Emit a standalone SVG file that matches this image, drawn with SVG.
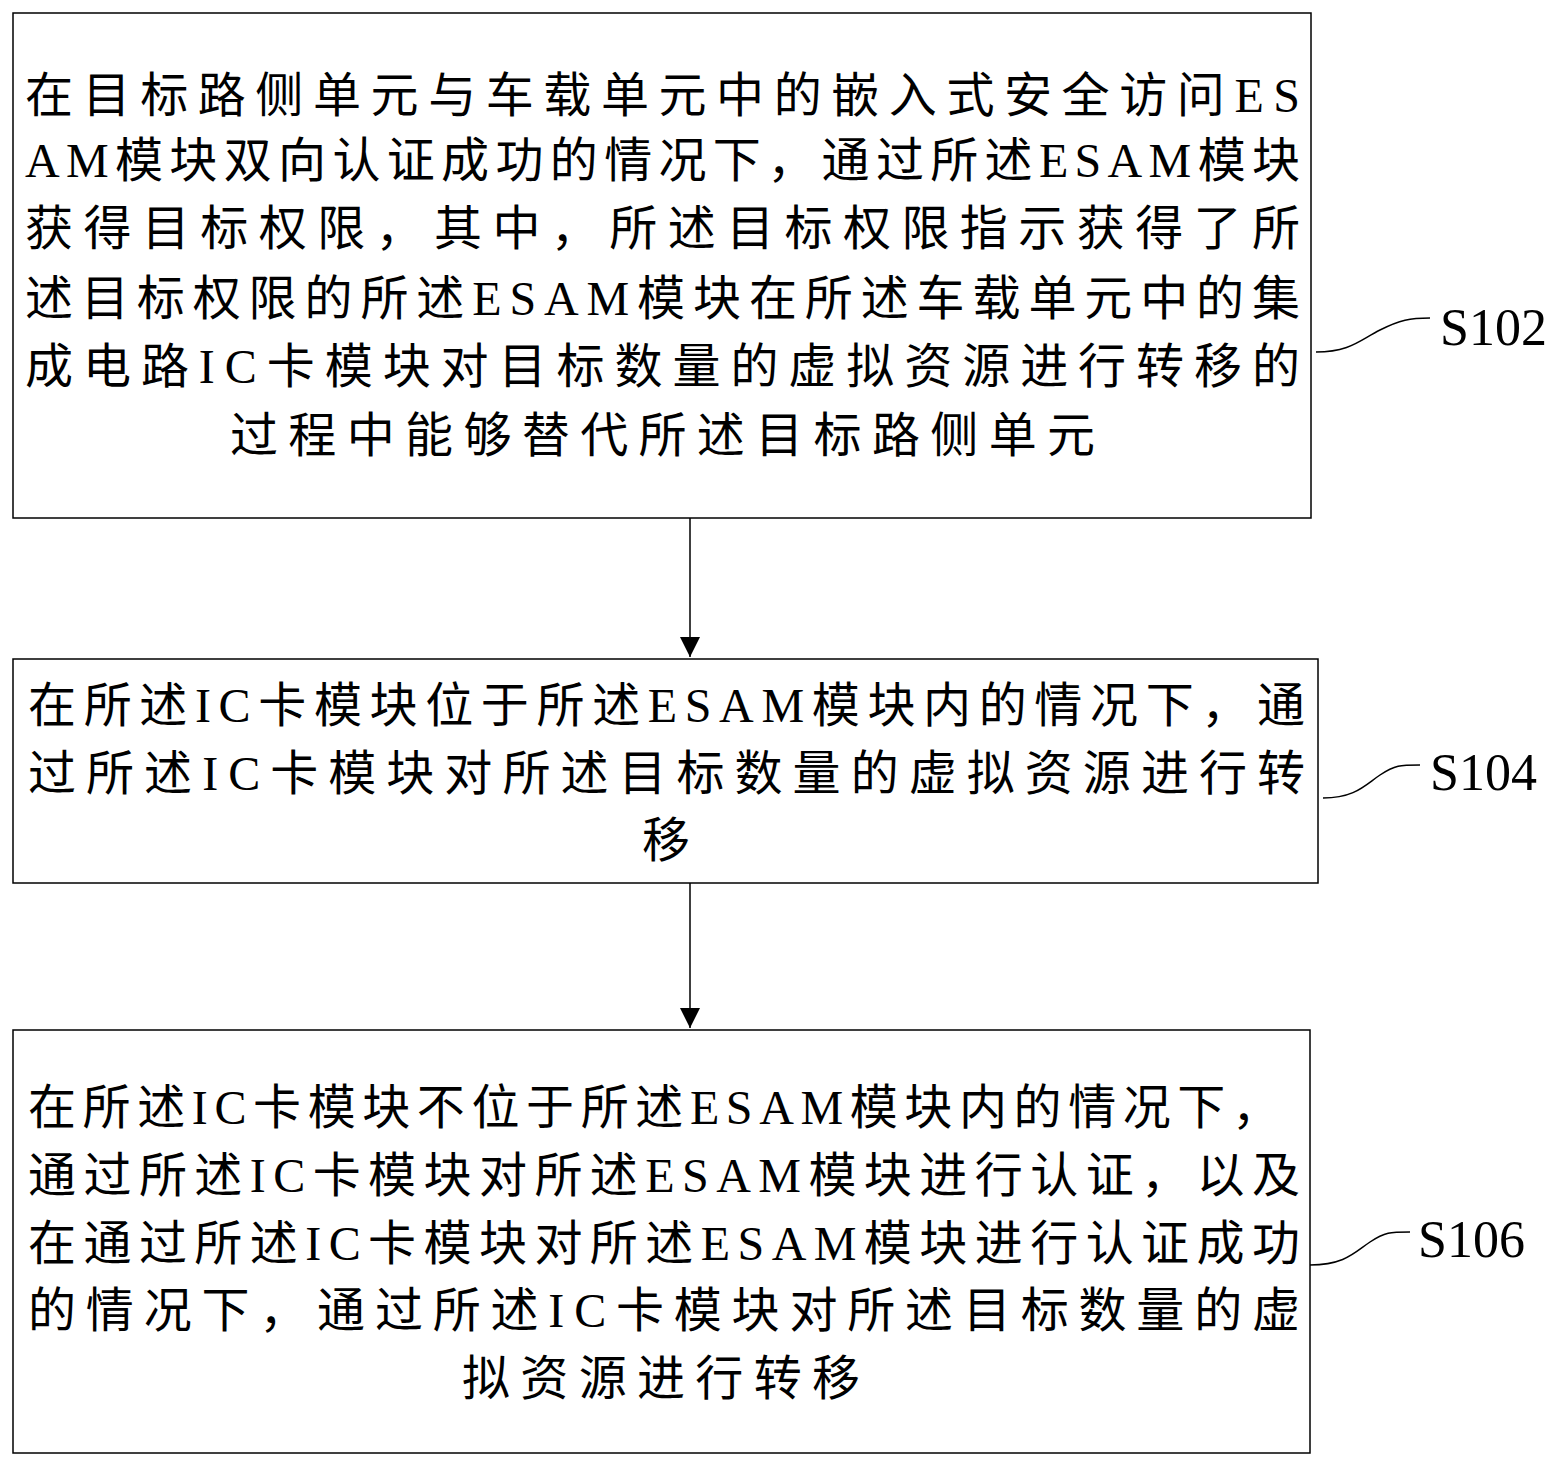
<svg xmlns="http://www.w3.org/2000/svg" width="1565" height="1467" viewBox="0 0 1565 1467">
<style>
.b{fill:#fff;stroke:#000;stroke-width:1.5}
.t{font-family:"Liberation Serif","Noto Sans CJK SC",serif;font-size:48px;fill:#000}
.l{font-family:"Liberation Serif",serif;font-size:52px;fill:#000}
.c{fill:none;stroke:#000;stroke-width:1.5}
</style>
<defs>
<marker id="ah" viewBox="0 0 20 20" refX="20" refY="10" markerWidth="20" markerHeight="24" markerUnits="userSpaceOnUse" orient="auto"><path d="M0,0 L20,10 L0,20 z" fill="#000"/></marker></defs>
<rect width="1565" height="1467" fill="#fff"/>
<g id="connectors">
<line class="c" x1="690" y1="518" x2="690" y2="657" marker-end="url(#ah)"/>
<line class="c" x1="690" y1="883" x2="690" y2="1028" marker-end="url(#ah)"/>
<path class="c" d="M1316,352 C1350,352 1360,340 1380,330 S1410,318 1430,318"/>
<path class="c" d="M1323,798 C1355,798 1365,785 1380,775 S1400,765 1420,765"/>
<path class="c" d="M1310,1265 C1345,1265 1355,1252 1370,1242 S1390,1232 1410,1232"/>
</g>
<g id="s102">
<rect class="b" x="13" y="13" width="1298" height="505"/>
<text class="t" x="25" y="112" textLength="1275" lengthAdjust="spacing">在目标路侧单元与车载单元中的嵌入式安全访问ES</text>
<text class="t" x="25" y="177" textLength="1275" lengthAdjust="spacing">AM模块双向认证成功的情况下，通过所述ESAM模块</text>
<text class="t" x="25" y="245" textLength="1275" lengthAdjust="spacing">获得目标权限，其中，所述目标权限指示获得了所</text>
<text class="t" x="25" y="315" textLength="1275" lengthAdjust="spacing">述目标权限的所述ESAM模块在所述车载单元中的集</text>
<text class="t" x="25" y="383" textLength="1275" lengthAdjust="spacing">成电路IC卡模块对目标数量的虚拟资源进行转移的</text>
<text class="t" x="230" y="452" textLength="865" lengthAdjust="spacing">过程中能够替代所述目标路侧单元</text>
<text class="l" x="1440" y="345">S102</text>
</g>
<g id="s104">
<rect class="b" x="13" y="659" width="1305" height="224"/>
<text class="t" x="28" y="722" textLength="1277" lengthAdjust="spacing">在所述IC卡模块位于所述ESAM模块内的情况下，通</text>
<text class="t" x="28" y="790" textLength="1277" lengthAdjust="spacing">过所述IC卡模块对所述目标数量的虚拟资源进行转</text>
<text class="t" x="642" y="857">移</text>
<text class="l" x="1430" y="790">S104</text>
</g>
<g id="s106">
<rect class="b" x="13" y="1030" width="1297" height="423"/>
<text class="t" x="28" y="1124" textLength="1252" lengthAdjust="spacing">在所述IC卡模块不位于所述ESAM模块内的情况下，</text>
<text class="t" x="28" y="1192" textLength="1272" lengthAdjust="spacing">通过所述IC卡模块对所述ESAM模块进行认证，以及</text>
<text class="t" x="28" y="1260" textLength="1272" lengthAdjust="spacing">在通过所述IC卡模块对所述ESAM模块进行认证成功</text>
<text class="t" x="28" y="1327" textLength="1272" lengthAdjust="spacing">的情况下，通过所述IC卡模块对所述目标数量的虚</text>
<text class="t" x="462" y="1395" textLength="398" lengthAdjust="spacing">拟资源进行转移</text>
<text class="l" x="1418" y="1257">S106</text>
</g>
</svg>
